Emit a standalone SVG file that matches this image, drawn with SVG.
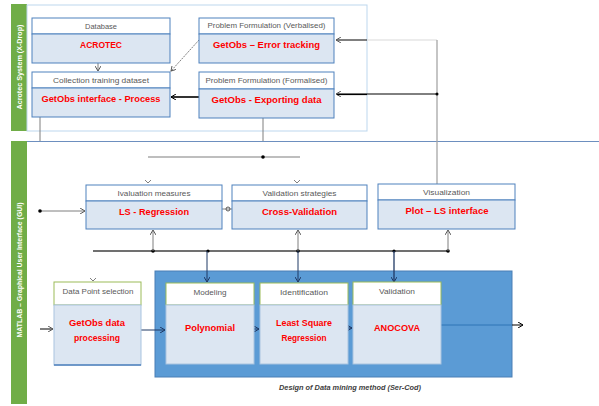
<svg xmlns="http://www.w3.org/2000/svg" width="599" height="406" viewBox="0 0 599 406">
<style>
.band{fill:#70ad47}
.bandtxt{font-family:"Liberation Sans",Arial,sans-serif;font-size:8px;font-weight:bold;fill:#ffffff}
.hdr{fill:#ffffff;stroke:#4f81bd;stroke-width:1}
.body{fill:#dce6f2;stroke:#4f81bd;stroke-width:1}
.ghdr{fill:#ffffff;stroke:#9bbb59;stroke-width:1}
.gbody{fill:#dce6f2;stroke:#a9c4e0;stroke-width:1}
.ht{font-family:"Liberation Sans",Arial,sans-serif;font-size:7px;fill:#595959;text-anchor:middle}
.bt{font-family:"Liberation Sans",Arial,sans-serif;font-size:9.5px;font-weight:bold;fill:#ff0000;text-anchor:middle}
.cap{font-family:"Liberation Sans",Arial,sans-serif;font-size:7.5px;font-style:italic;font-weight:bold;fill:#404040;text-anchor:middle}
.ln{fill:none;stroke:#7f7f7f;stroke-width:1}
.blk{fill:none;stroke:#000000;stroke-width:1}
.dot{fill:#000000}
</style>
<defs>
<marker id="ah" markerWidth="6" markerHeight="6" refX="5" refY="3" orient="auto" markerUnits="userSpaceOnUse">
<path d="M0,0 L5,3 L0,6" fill="none" stroke="#595959" stroke-width="1"/>
</marker>
<marker id="ahb" markerWidth="6" markerHeight="6" refX="5" refY="3" orient="auto" markerUnits="userSpaceOnUse">
<path d="M0,0 L5,3 L0,6" fill="none" stroke="#000000" stroke-width="1"/>
</marker>
<marker id="ahd" markerWidth="6" markerHeight="6" refX="5" refY="3" orient="auto" markerUnits="userSpaceOnUse">
<path d="M0,0 L5,3 L0,6" fill="none" stroke="#1f3864" stroke-width="1"/>
</marker>
</defs>

<!-- swimlane bands -->
<g id="lane-top">
<rect class="band" x="11" y="4" width="16" height="127"/>
<rect x="27" y="5" width="340" height="126" fill="none" stroke="#bdd7ee" stroke-width="1"/>
<text class="bandtxt" transform="translate(22,67) rotate(-90)" text-anchor="middle" textLength="85" lengthAdjust="spacingAndGlyphs">Acrotec System (X-Drop)</text>
</g>
<g id="lane-bottom">
<rect class="band" x="11" y="141" width="16" height="263"/>
<line x1="27" y1="141.5" x2="599" y2="141.5" stroke="#6d8fbf" stroke-width="1"/>
<text class="bandtxt" transform="translate(22,270) rotate(-90)" text-anchor="middle" textLength="135" lengthAdjust="spacingAndGlyphs">MATLAB – Graphical User Interface (GUI)</text>
</g>

<!-- blue container -->
<g id="container">
<rect x="155" y="271" width="357" height="106" fill="#5b9bd5" stroke="#4a7fb5" stroke-width="1"/>
<text class="cap" x="350" y="390" textLength="142" lengthAdjust="spacingAndGlyphs">Design of Data mining method (Ser-Cod)</text>
</g>

<!-- connectors -->
<g id="connectors">
<line class="ln" x1="98" y1="63" x2="98" y2="71" marker-end="url(#ah)"/>
<line x1="199" y1="40" x2="171" y2="71" stroke="#7f7f7f" stroke-width="1" stroke-dasharray="2,1" marker-end="url(#ah)"/>
<line x1="199" y1="97" x2="171" y2="97" stroke="#000" stroke-width="1.6" marker-end="url(#ahb)"/>
<line x1="367" y1="40" x2="437" y2="40" stroke="#d9d9d9" stroke-width="1.2"/>
<line x1="367" y1="40" x2="336" y2="40" class="blk" marker-end="url(#ah)"/>
<line x1="437" y1="40" x2="437" y2="184" stroke="#a6a6a6" stroke-width="1.3"/>
<line x1="437" y1="94" x2="336" y2="94" class="blk" marker-end="url(#ah)"/>
<line x1="337" y1="94.5" x2="367" y2="94.5" stroke="#000" stroke-width="1.2"/>
<circle class="dot" cx="437" cy="94" r="1.5"/>
<line class="ln" x1="40" y1="117" x2="40" y2="141"/>
<line class="ln" x1="263" y1="117" x2="263" y2="141"/>
<line x1="148" y1="157" x2="300" y2="157" stroke="#7f7f7f" stroke-width="1.2"/>
<circle class="dot" cx="263" cy="157" r="1.8"/>
<path d="M145,180 L148,183 L151,180" class="ln"/>
<path d="M294,180 L297,183 L300,180" class="ln"/>
<line class="ln" x1="40" y1="211" x2="85" y2="211" marker-end="url(#ah)"/>
<circle class="dot" cx="40" cy="211" r="1.8"/>
<line class="ln" x1="222" y1="209" x2="232" y2="209"/>
<circle cx="228" cy="209" r="2" fill="none" stroke="#595959" stroke-width="1"/>
<line x1="93" y1="251" x2="448" y2="251" stroke="#404040" stroke-width="1.3"/>
<circle class="dot" cx="153" cy="251" r="1.8"/>
<circle class="dot" cx="208" cy="251" r="1.6"/>
<circle class="dot" cx="298" cy="251" r="1.8"/>
<circle class="dot" cx="394" cy="251" r="1.6"/>
<circle class="dot" cx="448" cy="251" r="1.8"/>
<line class="ln" x1="153" y1="251" x2="153" y2="230" marker-end="url(#ah)"/>
<line class="ln" x1="298" y1="251" x2="298" y2="230" marker-end="url(#ah)"/>
<line class="ln" x1="448" y1="251" x2="448" y2="230" marker-end="url(#ah)"/>
<line x1="207" y1="251" x2="207" y2="282" stroke="#1f3864" stroke-width="1" marker-end="url(#ahd)"/>
<line x1="298" y1="251" x2="298" y2="282" stroke="#1f3864" stroke-width="1" marker-end="url(#ahd)"/>
<line x1="394" y1="251" x2="394" y2="282" stroke="#1f3864" stroke-width="1.3" marker-end="url(#ahd)"/>
<path d="M90,278 L93,281 L96,278" class="ln"/>
<line class="blk" x1="40" y1="329" x2="53" y2="329" marker-end="url(#ah)"/>
<line x1="141" y1="330" x2="165" y2="330" stroke="#1f3864" stroke-width="1" marker-end="url(#ahd)"/>
<line x1="254" y1="329" x2="259" y2="329" stroke="#1f3864" stroke-width="1" marker-end="url(#ahd)"/>
<line x1="348" y1="328" x2="352" y2="328" stroke="#1f3864" stroke-width="1" marker-end="url(#ahd)"/>
<line x1="441" y1="325" x2="512" y2="325" stroke="#2e75b6" stroke-width="1"/>
<line x1="512" y1="325" x2="523" y2="325" class="blk" marker-end="url(#ahb)"/>
</g>

<!-- top nodes -->
<g id="database">
<rect class="hdr" x="32" y="18" width="138" height="16"/>
<rect class="body" x="32" y="34" width="138" height="29"/>
<text class="ht" x="101" y="28.5" textLength="32" lengthAdjust="spacingAndGlyphs">Database</text>
<text class="bt" x="101" y="47.5" textLength="42" lengthAdjust="spacingAndGlyphs">ACROTEC</text>
</g>
<g id="collection">
<rect class="hdr" x="32" y="72" width="138" height="16"/>
<rect class="body" x="32" y="88" width="138" height="29"/>
<text class="ht" x="101" y="82.5" textLength="96" lengthAdjust="spacingAndGlyphs">Collection training dataset</text>
<text class="bt" x="101" y="101.5" textLength="119" lengthAdjust="spacingAndGlyphs">GetObs interface - Process</text>
</g>
<g id="verbalised">
<rect class="hdr" x="199" y="18" width="135" height="16"/>
<rect class="body" x="199" y="34" width="135" height="29"/>
<text class="ht" x="266.5" y="28" textLength="118" lengthAdjust="spacingAndGlyphs">Problem Formulation (Verbalised)</text>
<text class="bt" x="266.5" y="47.5" textLength="107" lengthAdjust="spacingAndGlyphs">GetObs – Error tracking</text>
</g>
<g id="formalised">
<rect class="hdr" x="199" y="72" width="135" height="17"/>
<rect class="body" x="199" y="89" width="135" height="29"/>
<text class="ht" x="266.5" y="83" textLength="122" lengthAdjust="spacingAndGlyphs">Problem Formulation (Formalised)</text>
<text class="bt" x="266.5" y="102.5" textLength="110" lengthAdjust="spacingAndGlyphs">GetObs - Exporting data</text>
</g>

<!-- middle nodes -->
<g id="evaluation">
<rect class="hdr" x="86" y="185" width="136" height="16" stroke="#a9c4e0"/>
<rect class="body" x="86" y="201" width="136" height="28"/>
<text class="ht" x="154" y="195.5" textLength="73" lengthAdjust="spacingAndGlyphs">Ivaluation measures</text>
<text class="bt" x="154" y="215" textLength="70" lengthAdjust="spacingAndGlyphs">LS - Regression</text>
</g>
<g id="validation-strategies">
<rect class="hdr" x="232" y="185" width="135" height="16" stroke="#a9c4e0"/>
<rect class="body" x="232" y="201" width="135" height="28"/>
<text class="ht" x="299.5" y="195.5" textLength="74" lengthAdjust="spacingAndGlyphs">Validation strategies</text>
<text class="bt" x="299.5" y="215" textLength="75" lengthAdjust="spacingAndGlyphs">Cross-Validation</text>
</g>
<g id="visualization">
<rect class="hdr" x="378" y="184" width="137" height="16"/>
<rect class="body" x="378" y="200" width="137" height="29" stroke="#7ea6d8"/>
<text class="ht" x="446.5" y="194.5" textLength="47" lengthAdjust="spacingAndGlyphs">Visualization</text>
<text class="bt" x="447" y="214" textLength="83" lengthAdjust="spacingAndGlyphs">Plot – LS interface</text>
</g>

<!-- bottom nodes -->
<g id="data-point">
<rect class="ghdr" x="54" y="282" width="87" height="23"/>
<rect class="gbody" x="54" y="305" width="87" height="60"/>
<line x1="54" y1="365" x2="141" y2="365" stroke="#4f81bd" stroke-width="1.5"/>
<text class="ht" x="98" y="294" textLength="71" lengthAdjust="spacingAndGlyphs">Data Point selection</text>
<text class="bt" x="97" y="326" textLength="56" lengthAdjust="spacingAndGlyphs">GetObs data</text>
<text class="bt" x="97" y="341" textLength="46" lengthAdjust="spacingAndGlyphs">processing</text>
</g>
<g id="modeling">
<rect class="ghdr" x="166" y="283" width="88" height="22"/>
<rect class="gbody" x="166" y="305" width="88" height="59"/>
<text class="ht" x="210" y="295" textLength="33" lengthAdjust="spacingAndGlyphs">Modeling</text>
<text class="bt" x="210" y="331" textLength="50" lengthAdjust="spacingAndGlyphs">Polynomial</text>
</g>
<g id="identification">
<rect class="ghdr" x="260" y="283" width="88" height="22"/>
<rect class="gbody" x="260" y="305" width="88" height="59"/>
<text class="ht" x="304" y="295" textLength="48" lengthAdjust="spacingAndGlyphs">Identification</text>
<text class="bt" x="304" y="326" textLength="56" lengthAdjust="spacingAndGlyphs">Least Square</text>
<text class="bt" x="304" y="340.5" textLength="45" lengthAdjust="spacingAndGlyphs">Regression</text>
</g>
<g id="validation">
<rect class="ghdr" x="353" y="282" width="88" height="23"/>
<rect class="gbody" x="353" y="305" width="88" height="59"/>
<text class="ht" x="397" y="293.5" textLength="36" lengthAdjust="spacingAndGlyphs">Validation</text>
<text class="bt" x="397" y="331" textLength="46" lengthAdjust="spacingAndGlyphs">ANOCOVA</text>
</g>
</svg>
